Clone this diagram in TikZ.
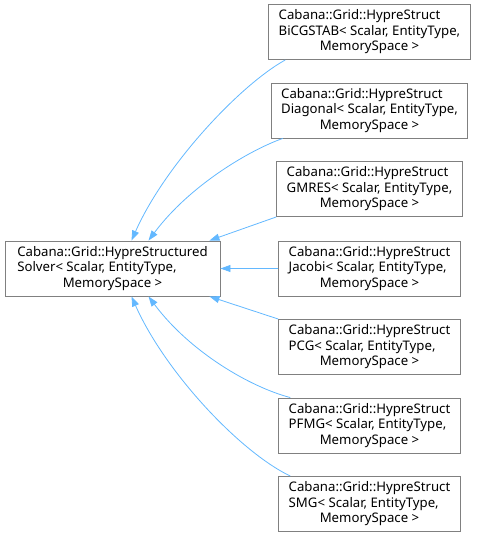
\documentclass[tikz,border=0pt]{standalone}
\usepackage{fontspec}
\setmainfont{Noto Sans}
\usetikzlibrary{arrows.meta}
\definecolor{edgeblue}{HTML}{63B8FF}
\definecolor{boxgray}{HTML}{808080}
\newcommand{\boxlines}[3]{\begin{tabular}{@{}l@{}}#1\\#2\\\multicolumn{1}{@{}c@{}}{#3}\end{tabular}}
\begin{document}
\begin{tikzpicture}[x=1pt,y=-1pt,font=\fontsize{13.2}{15.5}\selectfont,
    classbox/.style={draw=boxgray,line width=0.9pt,fill=white,inner xsep=10pt,inner ysep=0pt,minimum height=55pt},
    inherit/.style={draw=edgeblue,line width=0.8pt,-{Triangle[length=10pt,width=7pt]}}]
    \useasboundingbox (0,0) rectangle (476,537);

    \node[classbox,minimum width=215pt] (base) at (112.5,268.5)
      {\boxlines{Cabana::Grid::HypreStructured}{Solver< Scalar, EntityType,}{MemorySpace >}};

    \foreach \name/\kind/\y in {bicg/BiCGSTAB/32,diag/Diagonal/110.5,gmres/GMRES/189,
        jacobi/Jacobi/268.5,pcg/PCG/347,pfmg/PFMG/425.5,smg/SMG/504}
      \node[classbox] (\name) at (369.5,\y)
        {\boxlines{Cabana::Grid::HypreStruct}{\kind< Scalar, EntityType,}{MemorySpace >}};

    \draw[inherit] ([xshift=17pt]bicg.south west) .. controls (240,85) and (165,165) .. ([xshift=19pt]base.north);
    \draw[inherit] ([xshift=12pt]diag.south west) .. controls (250,150) and (190,185) .. ([xshift=36pt]base.north);
    \draw[inherit] (gmres.south west) -- ([xshift=-11pt]base.north east);
    \draw[inherit] (jacobi.west) -- (base.east);
    \draw[inherit] (pcg.north west) -- ([xshift=-11pt]base.south east);
    \draw[inherit] ([xshift=12pt]pfmg.north west) .. controls (250,387) and (190,352) .. ([xshift=36pt]base.south);
    \draw[inherit] ([xshift=12pt]smg.north west) .. controls (240,452) and (165,372) .. ([xshift=19pt]base.south);
  \end{tikzpicture}
\end{document}
